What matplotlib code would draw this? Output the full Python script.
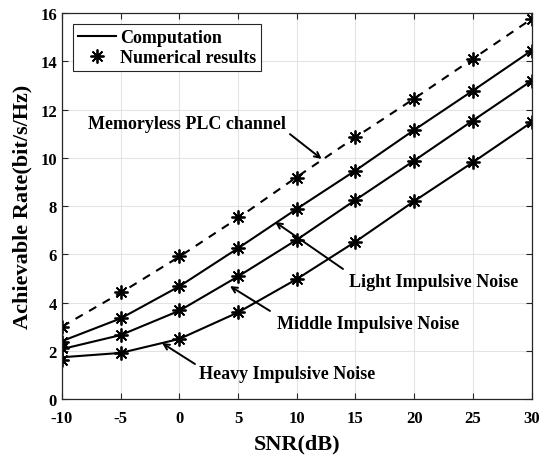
import numpy as np
import matplotlib
matplotlib.use('Agg')
import matplotlib.pyplot as plt
from matplotlib.lines import Line2D

# данные
snr = [-10, -5, 0, 5, 10, 15, 20, 25, 30]

memoryless_comp = [3.0, 4.4, 5.9, 7.5, 9.2, 10.85, 12.45, 14.1, 15.75]
memoryless_num = [2.97, 4.43, 5.94, 7.54, 9.16, 10.85, 12.44, 14.09, 15.75]

light_comp = [2.4, 3.34, 4.67, 6.25, 7.88, 9.47, 11.15, 12.78, 14.44]
light_num = [2.35, 3.34, 4.67, 6.25, 7.86, 9.47, 11.15, 12.78, 14.44]

middle_comp = [2.07, 2.65, 3.66, 5.08, 6.6, 8.25, 9.88, 11.54, 13.19]
middle_num = [2.1, 2.65, 3.68, 5.08, 6.6, 8.25, 9.88, 11.54, 13.19]

heavy_comp = [1.73, 1.91, 2.49, 3.59, 4.97, 6.52, 8.2, 9.81, 11.47]
heavy_num = [1.62, 1.91, 2.49, 3.59, 4.97, 6.52, 8.2, 9.81, 11.47]

xticks = [-10, -5, 0, 5, 10, 15, 20, 25, 30]
yticks = [0, 2, 4, 6, 8, 10, 12, 14, 16]

plt.rcParams['font.family'] = ['Liberation Serif', 'DejaVu Serif']
plt.rcParams['font.weight'] = 'bold'
plt.rcParams['axes.unicode_minus'] = False

fig = plt.figure(figsize=(5.47, 4.56), dpi=100)
ax = fig.add_axes([0.1133, 0.1228, 0.8584, 0.8465])

star = (8, 2, 0)
mk = dict(marker=star, markersize=10, markeredgewidth=1.3, color='black', linestyle='none')

# линии расчёта
ax.plot(snr, memoryless_comp, color='black', lw=1.5, linestyle=(0, (4, 3.5)))
ax.plot(snr, light_comp, color='black', lw=1.5)
ax.plot(snr, middle_comp, color='black', lw=1.5)
ax.plot(snr, heavy_comp, color='black', lw=1.5)

# численные результаты
for vals in (memoryless_num, light_num, middle_num, heavy_num):
    ax.plot(snr, vals, **mk)

ax.set_xlim(-10, 30)
ax.set_ylim(0, 16)
ax.set_xticks(xticks, labels=[str(v) for v in xticks], fontweight='bold', fontsize=12)
ax.set_yticks(yticks, labels=[str(v) for v in yticks], fontweight='bold', fontsize=12)
ax.tick_params(direction='in', top=True, right=True, length=4, width=0.8,
               color='#262626')
ax.tick_params(axis='x', pad=8)
ax.grid(True, color='#e3e3e3', lw=0.8)
ax.set_axisbelow(True)
for sp in ax.spines.values():
    sp.set_color('#262626')
    sp.set_linewidth(0.9)

ax.set_xlabel('SNR(dB)', fontsize=16, fontweight='bold', labelpad=5)
ax.set_ylabel('Achievable Rate(bit/s/Hz)', fontsize=16, fontweight='bold', labelpad=6)

# подписи и стрелки
fs = 13
arrow = dict(arrowstyle='->', color='black', lw=1.4, shrinkA=0, shrinkB=0)
ax.text(0.65, 11.4, 'Memoryless PLC channel', fontsize=fs, fontweight='bold',
        ha='center', va='center')
ax.annotate('', xy=(12.12, 9.95), xytext=(9.42, 10.98), arrowprops=arrow)
ax.text(21.65, 4.89, 'Light Impulsive Noise', fontsize=fs, fontweight='bold',
        ha='center', va='center')
ax.annotate('', xy=(8.15, 7.34), xytext=(13.94, 5.39), arrowprops=arrow)
ax.text(16.07, 3.15, 'Middle Impulsive Noise', fontsize=fs, fontweight='bold',
        ha='center', va='center')
ax.annotate('', xy=(4.31, 4.68), xytext=(7.72, 3.65), arrowprops=arrow)
ax.text(9.21, 1.04, 'Heavy Impulsive Noise', fontsize=fs, fontweight='bold',
        ha='center', va='center')
ax.annotate('', xy=(-1.48, 2.32), xytext=(1.33, 1.45), arrowprops=arrow)

# легенда
handles = [Line2D([], [], color='black', lw=1.5),
           Line2D([], [], **mk)]
leg = ax.legend(handles, ['Computation', 'Numerical results'], loc='upper left',
                frameon=True, fancybox=False, framealpha=1,
                edgecolor='#262626', borderpad=0.3, labelspacing=0.15,
                handlelength=2.1, handletextpad=0.2, borderaxespad=0.6,
                prop={'weight': 'bold', 'size': 13})
leg.get_frame().set_linewidth(0.8)

fig.savefig('out.png', dpi=100)
